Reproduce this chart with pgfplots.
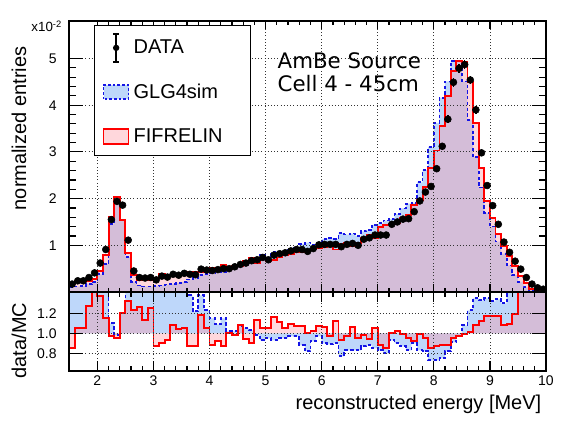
\documentclass[border=0pt]{standalone}
\usepackage{pgfplots}
\usepackage{pgfplotstable}
\pgfplotsset{compat=1.18}
\usepackage{fontspec}
\setmainfont{Liberation Sans}
\newfontfamily\dejavu{DejaVu Sans}
\definecolor{bfill}{RGB}{190,215,250}
\definecolor{rfillc}{RGB}{255,141,155}
\definecolor{rfill}{RGB}{255,215,220}
\definecolor{bline}{RGB}{20,20,230}

\pgfplotstableread{
x red blue rr br
1.5 0.20 0.10 0.85 1.70
1.6 0.23 0.12 1.05 2.00
1.7 0.23 0.13 1.05 1.85
1.8 0.24 0.17 1.27 1.80
1.9 0.28 0.22 1.46 1.85
2.0 0.45 0.38 1.37 1.60
2.1 0.79 0.60 1.15 1.52
2.2 1.60 1.45 0.97 1.10
2.3 2.04 1.97 0.95 0.98
2.4 1.55 1.55 1.20 1.20
2.5 0.84 0.75 1.32 1.48
2.6 0.37 0.22 1.23 2.00
2.7 0.25 0.14 1.26 2.20
2.8 0.27 0.12 1.13 2.50
2.9 0.25 0.12 1.25 2.60
3.0 0.30 0.13 0.87 2.00
3.1 0.38 0.14 0.90 2.40
3.2 0.34 0.16 0.93 2.00
3.3 0.35 0.17 1.08 2.20
3.4 0.35 0.19 1.04 1.90
3.5 0.38 0.21 1.05 1.90
3.6 0.44 0.27 0.87 1.38
3.7 0.43 0.30 0.87 1.22
3.8 0.42 0.36 1.18 1.38
3.9 0.45 0.38 1.05 1.23
4.0 0.52 0.40 0.88 1.15
4.1 0.52 0.44 0.92 1.09
4.2 0.57 0.43 0.87 1.15
4.3 0.50 0.49 1.00 1.02
4.4 0.55 0.53 0.98 1.02
4.5 0.55 0.55 1.08 1.07
4.6 0.66 0.59 0.94 1.05
4.7 0.74 0.65 0.90 1.03
4.8 0.61 0.70 1.13 0.98
4.9 0.70 0.80 1.05 0.93
5.0 0.66 0.73 1.05 0.95
5.1 0.68 0.85 1.16 0.93
5.2 0.74 0.86 1.11 0.95
5.3 0.80 0.88 1.05 0.95
5.4 0.81 0.91 1.09 0.97
5.5 0.85 0.94 1.07 0.97
5.6 0.85 1.03 1.07 0.88
5.7 0.87 1.06 1.00 0.82
5.8 0.91 1.01 1.02 0.92
5.9 0.94 1.04 1.07 0.97
6.0 0.96 1.13 1.06 0.90
6.1 1.05 1.15 0.97 0.89
6.2 0.91 1.13 1.12 0.90
6.3 1.04 1.26 0.93 0.77
6.4 1.05 1.23 0.97 0.83
6.5 0.98 1.25 1.06 0.83
6.6 1.05 1.20 0.95 0.83
6.7 1.15 1.30 0.98 0.87
6.8 1.23 1.32 0.94 0.88
6.9 1.16 1.44 1.05 0.85
7.0 1.39 1.47 0.88 0.83
7.1 1.44 1.53 0.85 0.80
7.2 1.45 1.56 1.00 0.93
7.3 1.47 1.67 1.02 0.90
7.4 1.58 1.79 0.99 0.87
7.5 1.65 1.89 0.95 0.83
7.6 1.87 1.91 0.92 0.90
7.7 1.97 2.35 0.99 0.83
7.8 2.25 2.61 0.95 0.82
7.9 2.66 3.10 0.85 0.73
8.0 3.03 3.62 0.87 0.73
8.1 3.55 4.16 0.88 0.75
8.2 4.20 4.51 0.88 0.82
8.3 4.73 4.95 0.95 0.91
8.4 4.94 4.95 0.97 0.97
8.5 4.92 4.51 0.99 1.08
8.6 4.50 3.69 1.01 1.23
8.7 3.61 2.89 1.08 1.35
8.8 2.66 2.24 1.12 1.33
8.9 1.95 1.69 1.17 1.35
9.0 1.58 1.40 1.17 1.32
9.1 1.24 1.08 1.17 1.34
9.2 0.99 0.82 1.08 1.30
9.3 0.78 0.57 1.09 1.49
9.4 0.55 0.36 1.19 1.83
9.5 0.34 0.22 1.50 2.20
9.6 0.19 0.10 1.60 3.10
9.7 0.07 0.05 2.40 3.40
9.8 0.045 0.03 2.00 3.00
9.9 0.03 0.02 2.00 3.00
10.0 0.03 0.02 2.00 3.00
}\hist

\pgfplotstableread{
x y e
1.55 0.17 0.02
1.65 0.24 0.02
1.75 0.24 0.02
1.85 0.31 0.02
1.95 0.41 0.02
2.05 0.62 0.03
2.15 0.91 0.03
2.25 1.55 0.04
2.35 1.94 0.04
2.45 1.86 0.04
2.55 1.11 0.03
2.65 0.45 0.02
2.75 0.31 0.02
2.85 0.30 0.02
2.95 0.31 0.02
3.05 0.26 0.02
3.15 0.34 0.02
3.25 0.32 0.02
3.35 0.38 0.02
3.45 0.36 0.02
3.55 0.40 0.02
3.65 0.38 0.02
3.75 0.37 0.02
3.85 0.49 0.02
3.95 0.47 0.02
4.05 0.46 0.02
4.15 0.48 0.02
4.25 0.50 0.02
4.35 0.50 0.02
4.45 0.54 0.02
4.55 0.59 0.02
4.65 0.62 0.02
4.75 0.67 0.03
4.85 0.69 0.03
4.95 0.74 0.03
5.05 0.69 0.03
5.15 0.79 0.03
5.25 0.82 0.03
5.35 0.84 0.03
5.45 0.88 0.03
5.55 0.91 0.03
5.65 0.91 0.03
5.75 0.87 0.03
5.85 0.93 0.03
5.95 1.01 0.03
6.05 1.02 0.03
6.15 1.02 0.03
6.25 1.02 0.03
6.35 0.97 0.03
6.45 1.02 0.03
6.55 1.04 0.03
6.65 1.00 0.03
6.75 1.13 0.03
6.85 1.16 0.03
6.95 1.22 0.04
7.05 1.22 0.04
7.15 1.22 0.04
7.25 1.45 0.04
7.35 1.50 0.04
7.45 1.56 0.04
7.55 1.57 0.04
7.65 1.72 0.04
7.75 1.95 0.05
7.85 2.14 0.05
7.95 2.26 0.05
8.05 2.64 0.06
8.15 3.12 0.07
8.25 3.70 0.08
8.35 4.49 0.09
8.45 4.79 0.09
8.55 4.87 0.09
8.65 4.54 0.09
8.75 3.90 0.08
8.85 2.98 0.07
8.95 2.28 0.05
9.05 1.85 0.05
9.15 1.45 0.04
9.25 1.07 0.03
9.35 0.85 0.03
9.45 0.66 0.03
9.55 0.49 0.02
9.65 0.31 0.02
9.75 0.17 0.02
9.85 0.09 0.02
9.95 0.06 0.02
}\data

\pgfplotsset{
  common/.style={
    scale only axis, width=357.5pt, anchor=south west,
    xmin=1.5, xmax=10, xtick={2,3,4,5,6,7,8,9,10}, minor x tick num=4,
    grid=major, grid style={black!80, dotted, line width=0.6pt},
    axis line style={line width=1.3pt}, tick style={black, line width=0.9pt},
    tick align=inside, axis on top,
    /pgf/number format/assume math mode=true,
    ticklabel style={font=\fontsize{10.5}{12}\selectfont},
    yticklabel style={xshift=-6pt},
  }
}

\begin{document}
\begin{tikzpicture}
\useasboundingbox (0,0) rectangle (424.5pt,319.5pt);

% main panel
\begin{axis}[common, at={(52pt,100.5pt)}, height=203.5pt,
  ymin=0, ymax=5.81, ytick={1,2,3,4,5}, minor y tick num=4,
  xticklabels={},
  xtick style={/pgfplots/major tick length=6pt, /pgfplots/minor tick length=3pt},
  ytick style={/pgfplots/major tick length=10.5pt, /pgfplots/minor tick length=5.2pt},
  legend style={at={(axis description cs:0.0518,0.984)}, anchor=north west,
    draw=black, line width=0.9pt, fill=white, inner xsep=0pt, inner ysep=0pt,
    row sep=0pt, column sep=0pt,
    nodes={inner sep=0pt, draw=none},
    font=\fontsize{15}{17}\selectfont},
  legend cell align=left,
]
\addplot[const plot, draw=none, fill=bfill, forget plot] table[x=x,y=blue]{\hist} \closedcycle;
\addplot[const plot, draw=none, fill=rfillc, fill opacity=0.35, forget plot] table[x=x,y=red]{\hist} \closedcycle;
\addplot[const plot, bline, line width=1.3pt, dash pattern=on 2.5pt off 1.8pt, forget plot] table[x=x,y=blue]{\hist};
\addplot[const plot, red, line width=1.4pt, forget plot] table[x=x,y=red]{\hist};
\addplot[only marks, mark=*, mark size=2.6pt, black, forget plot,
  error bars/.cd, y dir=both, y explicit, error mark=none,
  error bar style={line width=1pt, black}] table[x=x, y=y, y error=e]{\data};

\addlegendimage{legend image code/.code={
  \path[draw=none, fill=none] (-6.75pt,-16.5pt) rectangle (22.5pt,16.7pt);
  \draw[black, line width=1pt] (9.4pt,-10.5pt) -- (9.4pt,10.5pt);
  \draw[black, line width=1pt] (7.2pt,10.5pt) -- (11.6pt,10.5pt);
  \draw[black, line width=1pt] (7.2pt,-10.5pt) -- (11.6pt,-10.5pt);
  \fill[black, draw=none] (9.4pt,0pt) circle (2.4pt);}}
\addlegendentry{DATA}
\addlegendimage{legend image code/.code={
  \path[draw=none, fill=none] (-6.75pt,-16.7pt) rectangle (22.5pt,16.7pt);
  \filldraw[draw=bline, fill=bfill, line width=1.1pt, dash pattern=on 2pt off 1.5pt] (0pt,-5.3pt) rectangle (18.75pt,5.3pt);}}
\addlegendentry{GLG4sim}
\addlegendimage{legend image code/.code={
  \path[draw=none, fill=none] (-6.75pt,-14.25pt) rectangle (22.5pt,16.7pt);
  \filldraw[draw=red, fill=rfill, line width=1.1pt] (0pt,-5.6pt) rectangle (18.75pt,5.6pt);}}
\addlegendentry{FIFRELIN\hspace*{21pt}}
\end{axis}

% ratio panel
\begin{axis}[common, at={(52pt,41.25pt)}, height=59.25pt,
  ymin=0.623, ymax=1.413, ytick={0.8,1.0,1.2}, yticklabels={0.8,1.0,1.2},
  xticklabels={2,3,4,5,6,7,8,9,10},
  xtick style={/pgfplots/major tick length=7.5pt, /pgfplots/minor tick length=3.8pt},
  ytick style={/pgfplots/major tick length=10.5pt, /pgfplots/minor tick length=5.2pt},
]
\addplot[const plot, draw=none, fill=bfill] table[x=x,y=br]{\hist} -- (axis cs:10,1) -- (axis cs:1.5,1) -- cycle;
\addplot[const plot, draw=none, fill=rfillc, fill opacity=0.35] table[x=x,y=rr]{\hist} -- (axis cs:10,1) -- (axis cs:1.5,1) -- cycle;
\addplot[const plot, bline, line width=1.3pt, dash pattern=on 2.5pt off 1.8pt] table[x=x,y=br]{\hist};
\addplot[const plot, red, line width=1.4pt] table[x=x,y=rr]{\hist};
\end{axis}

% texts
\node[anchor=base east, font=\fontsize{10}{12}\selectfont] at (50pt,295.5pt) {x10\textsuperscript{-2}};
\node[rotate=90, anchor=east, font=\fontsize{15}{17}\selectfont] at (14.25pt,288pt) {normalized entries};
\node[rotate=90, anchor=east, font=\fontsize{15}{17}\selectfont] at (14.25pt,96pt) {data/MC};
\node[anchor=east, font=\fontsize{15}{17}\selectfont] at (409.5pt,16pt) {reconstructed energy [MeV]};
\node[anchor=base west, font=\dejavu\fontsize{16}{18}\selectfont] at (204.75pt,268.3pt) {AmBe Source};
\node[anchor=base west, font=\dejavu\fontsize{16}{18}\selectfont] at (204.75pt,251.25pt) {Cell 4 - 45cm};
\end{tikzpicture}
\end{document}
